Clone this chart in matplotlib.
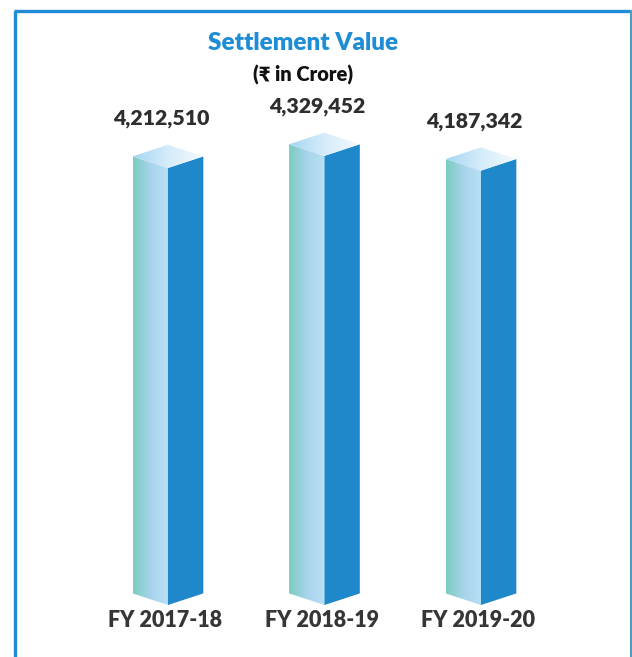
import matplotlib.pyplot as plt
import numpy as np
from matplotlib.patches import Polygon
from matplotlib.lines import Line2D
from matplotlib.colors import LinearSegmentedColormap

years = ["FY 2017-18", "FY 2018-19", "FY 2019-20"]
values = [4212510, 4329452, 4187342]

plt.rcParams['font.family'] = ['Lato', 'DejaVu Sans']

fig = plt.figure(figsize=(6.32, 6.57), dpi=100)
ax = fig.add_axes([0, 0, 1, 1])
ax.set_xlim(-1.073, 2.965)
ax.set_ylim(-501000, 5832000)
ax.axis('off')

w = 0.226      # half width of a bar (category units)
d = 112000     # iso depth of the top face (value units)

grad = np.linspace(0, 1, 64).reshape(1, -1)
cm_left = LinearSegmentedColormap.from_list('l', ['#7ccdc0', '#a8d4ec', '#b8e0f5'])
cm_top = LinearSegmentedColormap.from_list('t', ['#a6d6f3', '#d6ecfa', '#f2f9fd'])

for i, v in enumerate(values):
    x = i
    # left face
    lf = Polygon([(x - w, d), (x, 0), (x, v), (x - w, v + d)], closed=True,
                 facecolor='none', edgecolor='none')
    ax.add_patch(lf)
    im = ax.imshow(grad, cmap=cm_left, aspect='auto',
                   extent=(x - w, x, 0, v + d), zorder=2)
    im.set_clip_path(lf)
    # right face
    ax.add_patch(Polygon([(x, 0), (x + w, d), (x + w, v + d), (x, v)], closed=True,
                         facecolor='#1e88cb', edgecolor='none', zorder=2))
    # top face
    tf = Polygon([(x - w, v + d), (x, v), (x + w, v + d), (x, v + 2 * d)], closed=True,
                 facecolor='none', edgecolor='none')
    ax.add_patch(tf)
    im2 = ax.imshow(grad, cmap=cm_top, aspect='auto',
                    extent=(x - w, x + w, v, v + 2 * d), zorder=2)
    im2.set_clip_path(tf)
    # value label
    ax.annotate('{:,.0f}'.format(v), xy=(x, v + 2 * d), xytext=(-5, 12),
                textcoords='offset points', ha='center', va='bottom',
                fontsize=15.3, fontweight='heavy', color='#2e2e2e')
    # category label
    ax.annotate(years[i], xy=(x, 0), xytext=(-2, -11), textcoords='offset points',
                ha='center', va='center', fontsize=15.5, fontweight='heavy', color='#363636')

fig.text(0.48, 0.934, "Settlement Value", ha='center', va='center',
         fontsize=17.5, fontweight='heavy', color='#1f8dd6')
fig.text(0.48, 0.886, "(₹ in Crore)", ha='center', va='center',
         fontsize=14.5, fontweight='heavy', color='#111111')

# frame lines (left, top, right)
fig.add_artist(Line2D([15 / 632, 15 / 632], [0, 1 - 11 / 657], transform=fig.transFigure,
                      color='#1f8dd6', linewidth=2.4, solid_capstyle='butt'))
fig.add_artist(Line2D([14 / 632, 631 / 632], [1 - 10.5 / 657, 1 - 10.5 / 657], transform=fig.transFigure,
                      color='#1f8dd6', linewidth=2.4, solid_capstyle='butt'))
fig.add_artist(Line2D([631 / 632, 631 / 632], [0, 1 - 10 / 657], transform=fig.transFigure,
                      color='#4a9bc8', linewidth=1.4, solid_capstyle='butt'))

fig.savefig('out.png', dpi=100)
